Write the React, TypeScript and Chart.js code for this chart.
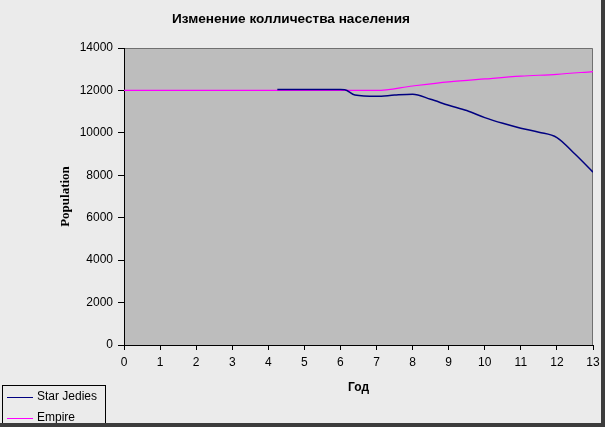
import { useEffect, useRef } from 'react';
import { Chart, registerables, ChartConfiguration, Plugin } from 'chart.js';

Chart.register(...registerables);

// Star Jedies (navy curve)
const jediYears = [4.25, 5, 6, 6.12, 6.4, 7, 7.5, 8, 8.5, 9, 9.5, 10, 10.5, 11, 11.5, 12, 12.5, 13];
const jediPopulation = [12040, 12040, 12040, 12030, 11780, 11720, 11780, 11820, 11580, 11300, 11050, 10720, 10450, 10220, 10030, 9780, 9000, 8150];

// Empire (magenta line)
const empireYears = [0, 1, 2, 3, 4, 5, 6, 7, 8, 9, 10, 11, 12, 13];
const empirePopulation = [12000, 12000, 12000, 12000, 12000, 12000, 12000, 12000, 12210, 12400, 12540, 12670, 12760, 12890];

const seriesNames = ['Star Jedies', 'Empire'];
const seriesColors = ['#000080', '#ff00ff'];

const chartTitle = 'Изменение колличества населения';
const xTitle = 'Год';
const yTitle = 'Population';

const W = 605;
const H = 427;

// background, titles, legend and frame drawn by hand (Excel look)
const decorPlugin: Plugin<'line'> = {
    id: 'decor',
    beforeDraw(chart) {
        const { ctx, chartArea } = chart;
        ctx.save();
        ctx.fillStyle = '#ebebeb';
        ctx.fillRect(0, 0, W, H);
        ctx.fillStyle = '#bdbdbd';
        ctx.fillRect(chartArea.left, chartArea.top, chartArea.right - chartArea.left, chartArea.bottom - chartArea.top);
        // plot area border (top/right)
        ctx.strokeStyle = '#707070';
        ctx.lineWidth = 1;
        ctx.beginPath();
        ctx.moveTo(chartArea.left, chartArea.top + 0.5);
        ctx.lineTo(chartArea.right - 0.5, chartArea.top + 0.5);
        ctx.lineTo(chartArea.right - 0.5, chartArea.bottom);
        ctx.stroke();
        ctx.restore();
    },
    afterDraw(chart) {
        const { ctx, chartArea } = chart;
        ctx.save();
        ctx.fillStyle = '#000';
        ctx.textAlign = 'center';
        ctx.textBaseline = 'middle';
        ctx.font = 'bold 13.6px "Liberation Sans", Arial, sans-serif';
        ctx.fillText(chartTitle, 291, 19);

        ctx.font = 'bold 12px "Liberation Sans", Arial, sans-serif';
        ctx.fillText(xTitle, (chartArea.left + chartArea.right) / 2, 388);

        ctx.save();
        ctx.translate(66, (chartArea.top + chartArea.bottom) / 2);
        ctx.rotate(-Math.PI / 2);
        ctx.font = 'bold 13px "Liberation Serif", "Times New Roman", serif';
        ctx.fillText(yTitle, 0, 0);
        ctx.restore();

        // legend box
        ctx.strokeStyle = '#000';
        ctx.lineWidth = 1;
        ctx.strokeRect(2.5, 385.5, 103, 50);
        ctx.textAlign = 'left';
        ctx.font = '12px "Liberation Sans", Arial, sans-serif';
        seriesNames.forEach((name, i) => {
            const y = 397 + i * 21;
            ctx.strokeStyle = seriesColors[i];
            ctx.beginPath();
            ctx.moveTo(7, y + 0.5);
            ctx.lineTo(33, y + 0.5);
            ctx.stroke();
            ctx.fillStyle = '#000';
            ctx.fillText(name, 37, y);
        });

        // dark shadow frame right/bottom
        ctx.fillStyle = '#3c3c3c';
        ctx.fillRect(W - 4, 0, 4, H);
        ctx.fillRect(0, H - 4, W, 4);
        ctx.restore();
    },
};

const App = () => {
    const canvasRef = useRef<HTMLCanvasElement | null>(null);
    const chartInstance = useRef<Chart<'line'> | null>(null);

    useEffect(() => {
        document.body.style.margin = '0';
        if (!canvasRef.current) return;
        if (chartInstance.current) chartInstance.current.destroy();

        const tickFont = { family: '"Liberation Sans", Arial, sans-serif', size: 12 };

        const config: ChartConfiguration<'line'> = {
            type: 'line',
            data: {
                datasets: [
                    {
                        label: seriesNames[0],
                        data: jediYears.map((x, i) => ({ x, y: jediPopulation[i] })),
                        borderColor: seriesColors[0],
                        borderWidth: 1.5,
                        pointRadius: 0,
                        cubicInterpolationMode: 'monotone',
                        fill: false,
                    },
                    {
                        label: seriesNames[1],
                        data: empireYears.map((x, i) => ({ x, y: empirePopulation[i] })),
                        borderColor: seriesColors[1],
                        borderWidth: 1.2,
                        pointRadius: 0,
                        cubicInterpolationMode: 'monotone',
                        fill: false,
                    },
                ],
            },
            options: {
                responsive: false,
                animation: false,
                layout: { padding: { top: 48, right: 12, left: 0, bottom: 0 } },
                plugins: {
                    legend: { display: false },
                    title: { display: false },
                    tooltip: { enabled: false },
                },
                scales: {
                    x: {
                        type: 'linear',
                        min: 0,
                        max: 13,
                        afterFit: (scale) => {
                            scale.height = 82;
                        },
                        ticks: { stepSize: 1, color: '#000', font: tickFont, padding: 5, maxRotation: 0 },
                        grid: { drawOnChartArea: false, tickLength: 5, color: '#000' },
                        border: { display: true, color: '#000' },
                    },
                    y: {
                        min: 0,
                        max: 14000,
                        afterFit: (scale) => {
                            scale.width = 124;
                        },
                        ticks: { stepSize: 2000, color: '#000', font: tickFont, padding: 5, callback: (v) => String(v) },
                        grid: { drawOnChartArea: false, tickLength: 6, color: '#000' },
                        border: { display: true, color: '#000' },
                    },
                },
            },
            plugins: [decorPlugin],
        };

        chartInstance.current = new Chart(canvasRef.current, config);

        return () => {
            if (chartInstance.current) {
                chartInstance.current.destroy();
                chartInstance.current = null;
            }
        };
    }, []);

    return (
        <div style={{ width: W, height: H }}>
            <canvas ref={canvasRef} width={W} height={H} style={{ display: 'block' }} />
        </div>
    );
};

export default App;
